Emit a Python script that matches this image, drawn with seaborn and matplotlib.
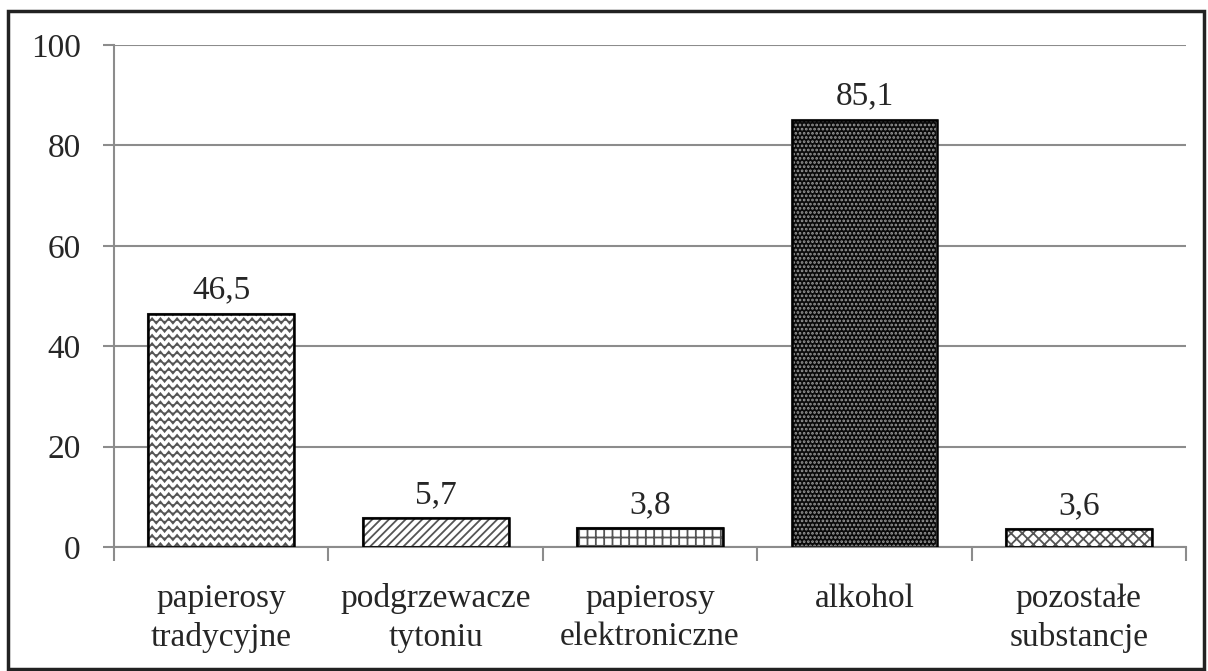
import warnings
import numpy as np
import pandas as pd
import seaborn as sns
import matplotlib.pyplot as plt
import matplotlib.hatch as mhatch
from matplotlib.path import Path
from matplotlib.patches import Rectangle

warnings.filterwarnings('ignore')

kategorie = ['papierosy\ntradycyjne', 'podgrzewacze\ntytoniu', 'papierosy\nelektroniczne',
             'alkohol', 'pozostałe\nsubstancje']
wartosci = [46.5, 5.7, 3.8, 85.1, 3.6]
y_ticks = [0, 20, 40, 60, 80, 100]


# falisty wzor (brak w matplotlib) - wlasny hatch '~'
class WaveHatch(mhatch.HatchPatternBase):
    def __init__(self, hatch, density):
        self.num_lines = int(hatch.count('~') * density)
        self.pts = 4 * self.num_lines + 1
        self.num_vertices = self.num_lines * self.pts

    def set_vertices_and_codes(self, vertices, codes):
        if self.num_lines == 0:
            return
        xs = np.linspace(0, 1, self.pts)
        amp = 0.3 / self.num_lines
        zz = np.tile([0, 1, 0, -1], self.num_lines + 1)[:self.pts] * amp
        k = 0
        for i in range(self.num_lines):
            y0 = (i + 0.5) / self.num_lines
            vertices[k:k + self.pts, 0] = xs
            vertices[k:k + self.pts, 1] = y0 + zz
            codes[k] = Path.MOVETO
            codes[k + 1:k + self.pts] = Path.LINETO
            k += self.pts


mhatch._hatch_types.append(WaveHatch)

sns.set_style('white')
plt.rcParams['font.family'] = ['Liberation Serif', 'DejaVu Serif']
plt.rcParams['hatch.linewidth'] = 1.3

df = pd.DataFrame({'kat': kategorie, 'val': wartosci})

fig = plt.figure(figsize=(12.08, 6.71), dpi=100)
ax = fig.add_axes([0.0944, 0.1848, 0.8874, 0.7482])

sns.barplot(data=df, x='kat', y='val', color='white', width=0.68,
            edgecolor='black', linewidth=1.5, ax=ax, zorder=3)

hatches = ['~~', '////', '++', '', 'xxx']
for p, h in zip(ax.patches, hatches):
    p.set_hatch(h)
    p.set_facecolor('white')
    p.set_edgecolor('#555555')

# alkohol - ciemny slupek z jasna kratka
dark = ax.patches[3]
dark.set_facecolor('#0a0a0a')
dark.set_edgecolor('#9a9a9a')
dark.set_hatch('....')

for p in ax.patches:
    ax.add_patch(Rectangle(p.get_xy(), p.get_width(), p.get_height(), fill=False,
                           edgecolor='black', linewidth=1.8, zorder=4))

for p, v in zip(ax.patches, wartosci):
    ax.text(p.get_x() + p.get_width() / 2, v + 1.6, f'{v:.1f}'.replace('.', ','),
            ha='center', va='bottom', fontsize=24)

ax.set_ylim(0, 100)
ax.set_xlim(-0.5, 4.5)
ax.set_yticks(y_ticks)
ax.yaxis.grid(True, color='#8c8c8c', linewidth=1.5, zorder=0)
ax.set_axisbelow(True)
ax.set_xlabel('')
ax.set_ylabel('')

ax.tick_params(axis='y', labelsize=24, length=8, width=1.5, color='#8c8c8c', pad=16,
               left=True)
ax.tick_params(axis='x', which='major', length=0, labelsize=24, pad=26)
ax.set_xticks(np.arange(-0.5, 5, 1), minor=True)
ax.tick_params(axis='x', which='minor', length=10, width=1.5, color='#8c8c8c', bottom=True)
for lbl in ax.get_xticklabels():
    lbl.set_linespacing(1.35)

for s in ['top', 'right']:
    ax.spines[s].set_visible(False)
for s in ['left', 'bottom']:
    ax.spines[s].set_color('#8c8c8c')
    ax.spines[s].set_linewidth(1.5)

# ramka wokol calego rysunku
fig.add_artist(Rectangle((0.007, 0.003), 0.99, 0.98, transform=fig.transFigure,
                         fill=False, edgecolor='#222222', linewidth=2.5))

fig.savefig('out.png', dpi=100)
